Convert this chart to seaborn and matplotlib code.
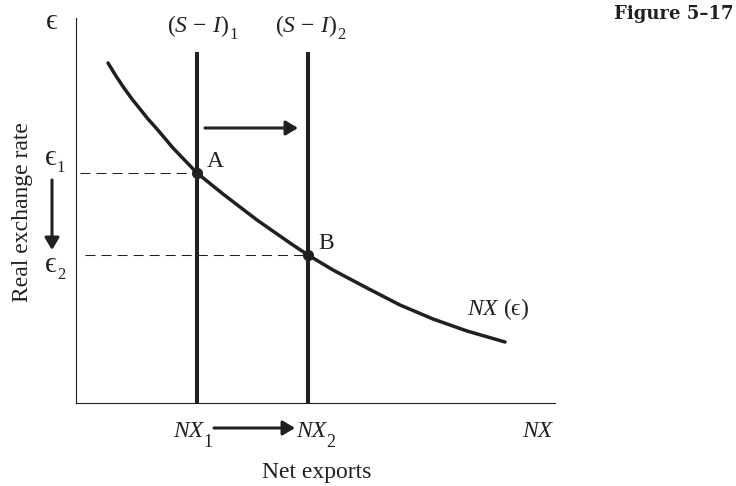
import numpy as np
import pandas as pd
import matplotlib
matplotlib.use('Agg')
import matplotlib.pyplot as plt
import seaborn as sns

# Data (axes units = pixels from the origin)
nx_x = [32, 40, 48, 56, 64, 72, 81, 97, 121, 147, 181, 214, 232, 257, 291, 324, 357, 391, 429]
nx_y = [340, 327, 315, 304, 294, 284, 274, 255, 230, 209, 183, 160, 148, 133, 115, 98, 84, 72, 61]
si_x = [121, 232]            # (S - I)_1, (S - I)_2
si_top = 351
eq_names = ['A', 'B']
eq_x = [121, 232]
eq_y = [230, 148]
dash_start = [4, 9]
shift_arrow = [129, 222, 275]  # x0, x1, y

W, H = 736, 486
INK = '#231f20'
EPS = '\u03f5'

sns.set_theme(style='white')
plt.rcParams['font.family'] = ['Liberation Serif', 'STIXGeneral', 'DejaVu Serif']
plt.rcParams['mathtext.fontset'] = 'custom'
plt.rcParams['mathtext.rm'] = 'Liberation Serif'
plt.rcParams['mathtext.it'] = 'Liberation Serif:italic'
plt.rcParams['mathtext.fallback'] = 'stix'

fig = plt.figure(figsize=(W / 100, H / 100), dpi=100)
ax = fig.add_axes([76 / W, (H - 403) / H, 479 / W, 385 / H])
ax.set_xlim(0, 479)
ax.set_ylim(0, 385)
for s in ['top', 'right']:
    ax.spines[s].set_visible(False)
for s in ['left', 'bottom']:
    ax.spines[s].set_color(INK)
    ax.spines[s].set_linewidth(0.8)
ax.set_xticks([])
ax.set_yticks([])

curve = pd.DataFrame({'nx': nx_x, 'e': nx_y})
sns.lineplot(data=curve, x='nx', y='e', ax=ax, color=INK, lw=2.5, sort=False)

for x in si_x:
    ax.plot([x, x], [0, si_top], color=INK, lw=2.9, solid_capstyle='butt')

for x0, x, y in zip(dash_start, eq_x, eq_y):
    ax.plot([x0, x], [y, y], color=INK, lw=0.75, ls=(0, (9.6, 5.8)))

sns.scatterplot(x=eq_x, y=eq_y, ax=ax, color=INK, s=55, edgecolor=INK, zorder=5)

arrow = dict(arrowstyle='-|>,head_length=0.4,head_width=0.24', mutation_scale=18,
             color=INK, lw=2.2, shrinkA=0, shrinkB=0)
ax.annotate('', xy=(shift_arrow[1], shift_arrow[2]), xytext=(shift_arrow[0], shift_arrow[2]),
            arrowprops=arrow)

renderer = fig.canvas.get_renderer()


def ftext(px, py, s, **kw):
    kw.setdefault('fontsize', 17)
    kw.setdefault('color', INK)
    kw.setdefault('va', 'baseline')
    kw.setdefault('ha', 'left')
    return fig.text(px / W, 1 - py / H, s, **kw)


def subtext(px, py, main, sub, drop=8, size=13, gap=0, **kw):
    t = ftext(px, py, main, **kw)
    bb = t.get_window_extent(renderer)
    ftext(bb.x1 + gap, py + drop, sub, fontsize=size)


def farrow(p0, p1):
    fig.add_artist(matplotlib.patches.FancyArrowPatch(
        (p0[0] / W, 1 - p0[1] / H), (p1[0] / W, 1 - p1[1] / H),
        transform=fig.transFigure, **arrow))


ftext(46, 29, EPS, fontsize=21)
subtext(167, 32, r'$(S\,-\,I)$', '1', drop=7, size=12, gap=0)
subtext(275, 32, r'$(S\,-\,I)$', '2', drop=7, size=12, gap=0)
subtext(45, 165, EPS, '1', drop=7, size=12, fontsize=21, gap=0)
subtext(45, 272, EPS, '2', drop=7, size=12, fontsize=21, gap=0)
for name, x, y in zip(eq_names, eq_x, eq_y):
    fig.text((x + 76 + 10) / W, 1 - (403 - y - 6) / H, name, fontsize=17, color=INK, va='baseline')
subtext(173, 437, 'NX', '1', drop=10, size=13, gap=0, style='italic')
subtext(296, 437, 'NX', '2', drop=10, size=13, gap=0, style='italic')
ftext(522, 437, 'NX', style='italic')
ftext(467, 315, '$NX\\ (\\mathrm{' + EPS + '})$')
ftext(317, 478, 'Net exports', ha='center')
ftext(23, 212, 'Real exchange rate', ha='center', va='center', rotation=90)
ftext(733, 5, 'Figure 5\u201317', ha='right', va='top', fontsize=13, fontweight='bold',
      family=['DejaVu Serif'])

farrow((52, 180), (52, 250))
farrow((214, 428), (295, 428))

fig.savefig('out.png', dpi=100)
